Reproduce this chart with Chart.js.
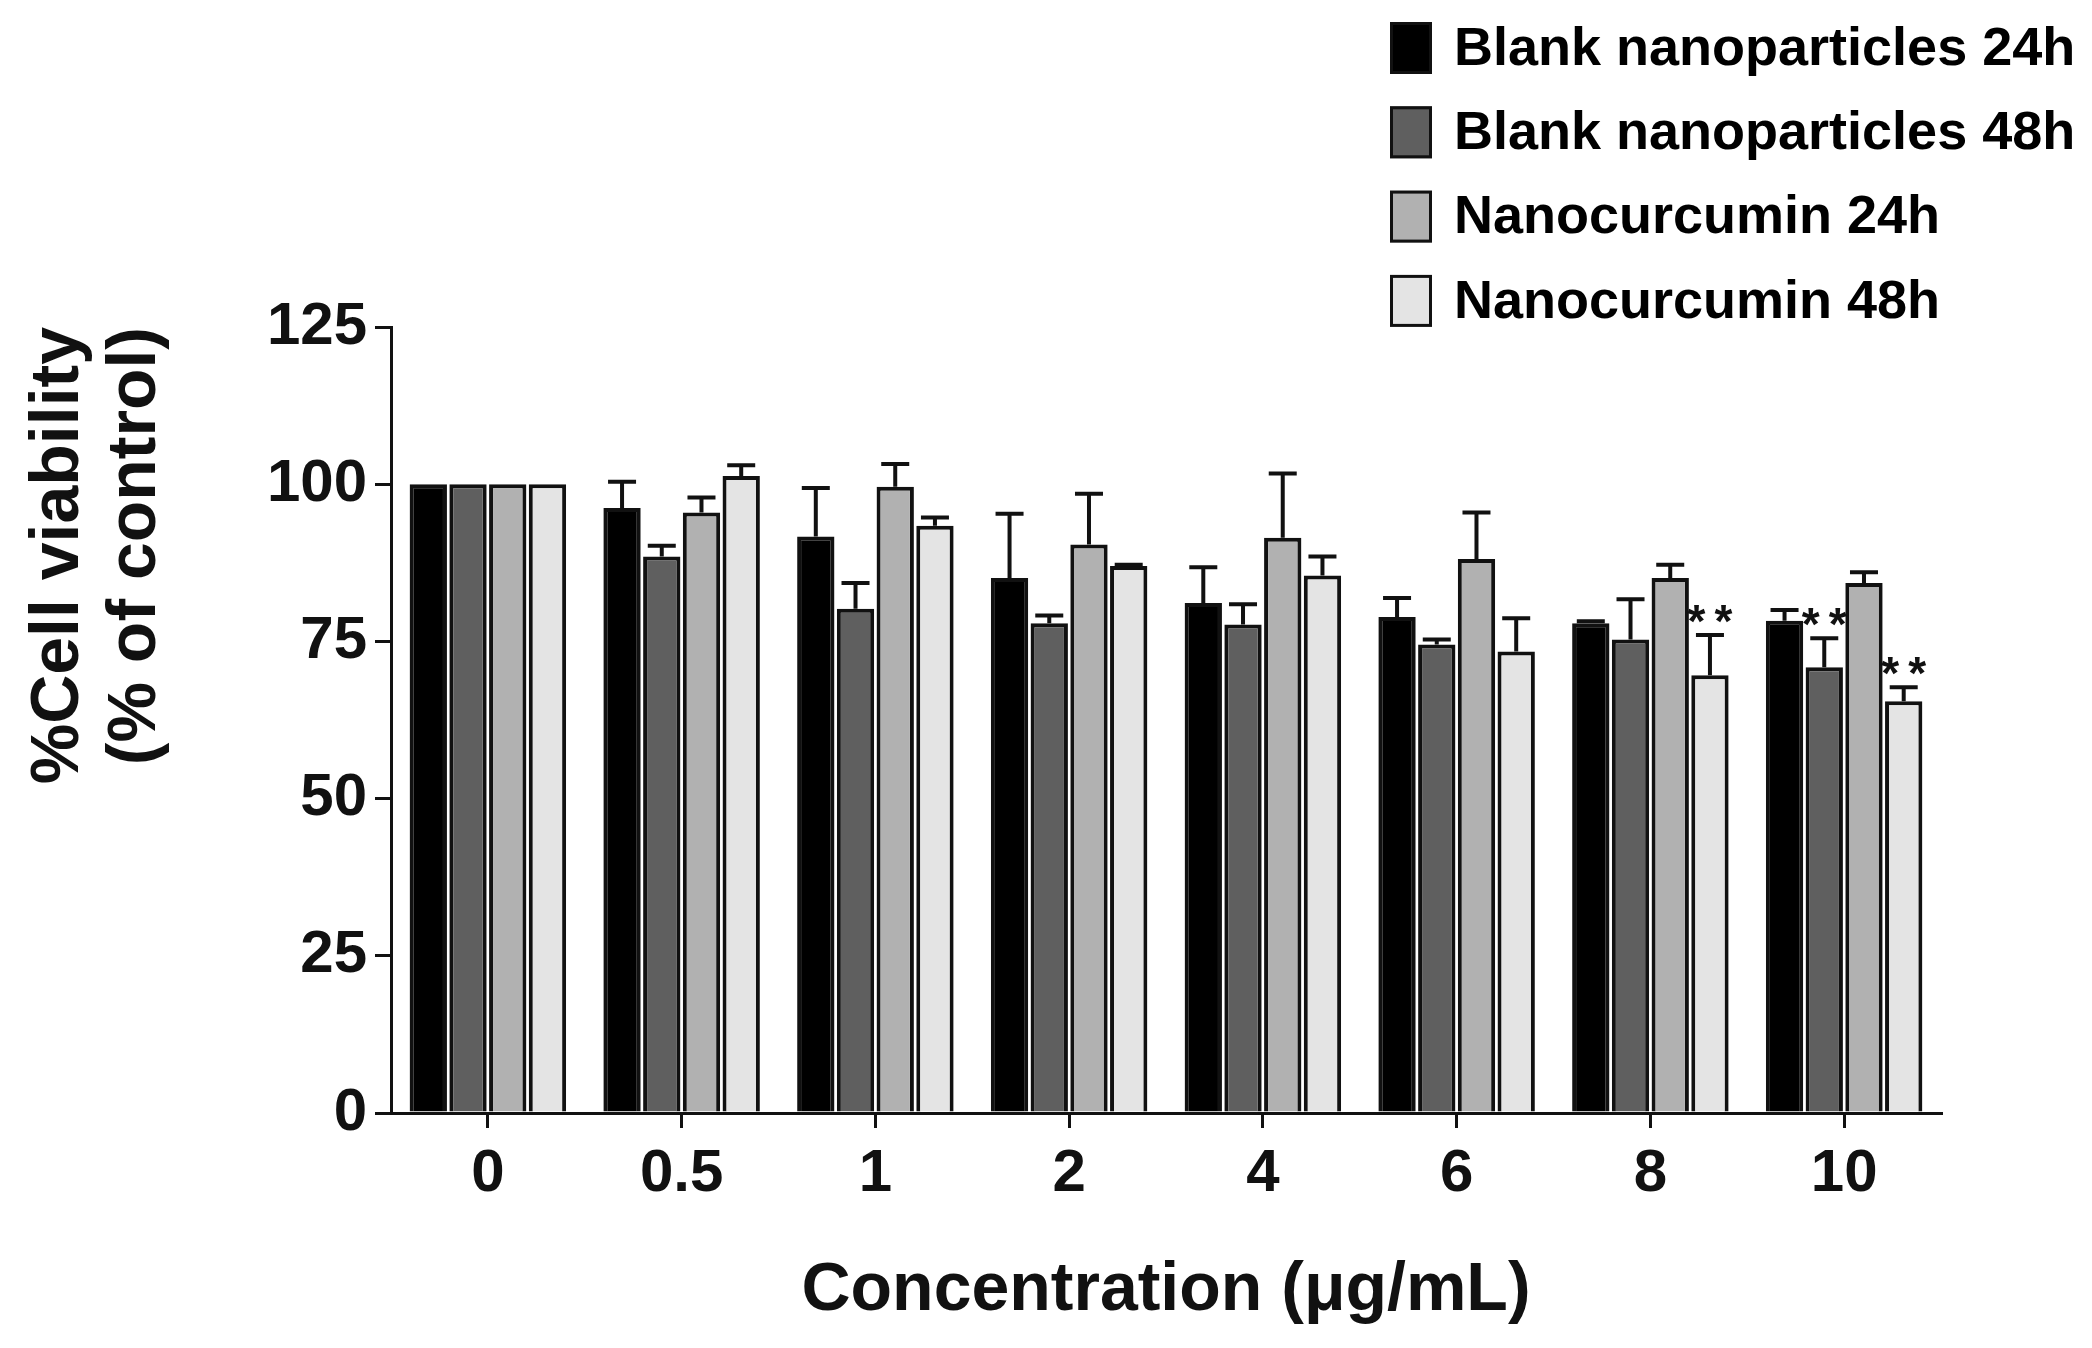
<!DOCTYPE html>
<html>
<head>
<meta charset="utf-8">
<title>Cell viability</title>
<script src="https://cdn.jsdelivr.net/npm/chart.js@4.4.1/dist/chart.umd.min.js"></script>
<style>
  html, body { margin: 0; padding: 0; background: #ffffff; }
  #wrap { width: 2092px; height: 1348px; }
</style>
</head>
<body>
<div id="wrap"><canvas id="viabilityChart" width="2092" height="1348"></canvas></div>
<script>
// Concentration groups (µg/mL)
const concentrations = ['0', '0.5', '1', '2', '4', '6', '8', '10'];

// Mean % viability
const blank24 = [100, 96.2, 91.7, 85.1, 81.1, 78.9, 77.9, 78.3];
const blank48 = [100, 88.5, 80.2, 77.9, 77.7, 74.5, 75.3, 70.9];
const nano24  = [100, 95.5, 99.6, 90.4, 91.5, 88.1, 85.1, 84.3];
const nano48  = [100, 101.3, 93.4, 87.0, 85.5, 73.4, 69.6, 65.5];

// Upper error bars (SD)
const blank24Err = [0, 4.2, 7.7, 10.2, 5.7, 3.0, 0.3, 1.7];
const blank48Err = [0, 1.7, 4.1, 1.2, 3.2, 0.8, 6.4, 4.6];
const nano24Err  = [0, 2.4, 3.6, 8.1, 10.2, 7.4, 2.1, 1.7];
const nano48Err  = [0, 1.7, 1.3, 0.2, 3.0, 5.3, 6.4, 2.2];

// significance marks
const blank24Sig = ['', '', '', '', '', '', '', ''];
const blank48Sig = ['', '', '', '', '', '', '', '**'];
const nano24Sig  = ['', '', '', '', '', '', '', ''];
const nano48Sig  = ['', '', '', '', '', '', '**', '**'];

const yTicks = [0, 25, 50, 75, 100, 125];

const seriesLabels = ['Blank nanoparticles 24h', 'Blank nanoparticles 48h', 'Nanocurcumin 24h', 'Nanocurcumin 48h'];
const seriesColors = ['#000000', '#5f5f5f', '#b1b1b1', '#e4e4e4'];

const FONT = '"Liberation Sans", Arial, Helvetica, sans-serif';

function makeSet(i, data, err, sig) {
    return {
        label: seriesLabels[i],
        data: data,
        errors: err,
        sig: sig,
        backgroundColor: seriesColors[i],
        borderColor: '#111111',
        borderWidth: 4,
        borderSkipped: 'start'
    };
}

// error bars + stars
const errorBarPlugin = {
    id: 'errorBars',
    afterDatasetsDraw(chart) {
        const ctx = chart.ctx;
        const y = chart.scales.y;
        chart.data.datasets.forEach((ds, di) => {
            const meta = chart.getDatasetMeta(di);
            meta.data.forEach((bar, i) => {
                const v = ds.data[i];
                const e = ds.errors[i];
                const top = y.getPixelForValue(v);
                const cap = y.getPixelForValue(v + e);
                ctx.save();
                ctx.strokeStyle = '#111111';
                ctx.lineWidth = 4;
                if (e > 0) {
                    ctx.beginPath();
                    ctx.moveTo(bar.x, top);
                    ctx.lineTo(bar.x, cap);
                    ctx.moveTo(bar.x - 14, cap);
                    ctx.lineTo(bar.x + 14, cap);
                    ctx.stroke();
                }
                if (ds.sig[i]) {
                    ctx.fillStyle = '#111111';
                    ctx.font = 'bold 46px ' + FONT;
                    ctx.textAlign = 'center';
                    ctx.textBaseline = 'alphabetic';
                    ctx.fillText(ds.sig[i].split('').join('\u2009'), bar.x, cap + 2);
                }
                ctx.restore();
            });
        });
    }
};

// legend in the top right corner
const legendPlugin = {
    id: 'boxLegend',
    afterDraw(chart) {
        const ctx = chart.ctx;
        const x0 = 1390, y0 = 48, rowH = 84.3;
        ctx.save();
        chart.data.datasets.forEach((ds, i) => {
            const cy = y0 + i * rowH;
            ctx.fillStyle = ds.backgroundColor;
            ctx.fillRect(x0, cy - 26, 42, 52);
            ctx.strokeStyle = '#111111';
            ctx.lineWidth = 3;
            ctx.strokeRect(x0 + 1.5, cy - 24.5, 39, 49);
            ctx.fillStyle = '#000000';
            ctx.font = 'bold 54px ' + FONT;
            ctx.textAlign = 'left';
            ctx.textBaseline = 'middle';
            ctx.fillText(ds.label, 1454, cy + 2);
        });
        ctx.restore();
    }
};

new Chart(document.getElementById('viabilityChart'), {
    type: 'bar',
    data: {
        labels: concentrations,
        datasets: [
            makeSet(0, blank24, blank24Err, blank24Sig),
            makeSet(1, blank48, blank48Err, blank48Sig),
            makeSet(2, nano24, nano24Err, nano24Sig),
            makeSet(3, nano48, nano48Err, nano48Sig)
        ]
    },
    options: {
        responsive: false,
        animation: false,
        devicePixelRatio: 1,
        categoryPercentage: 0.82,
        barPercentage: 0.94,
        layout: { padding: { top: 327, right: 151, left: 0, bottom: 0 } },
        plugins: {
            legend: { display: false },
            tooltip: { enabled: false }
        },
        scales: {
            y: {
                min: 0,
                max: 125,
                afterBuildTicks: (scale) => { scale.ticks = yTicks.map(v => ({ value: v })); },
                afterFit: (scale) => { scale.width = 391; },
                border: { color: '#111111', width: 3 },
                grid: { drawOnChartArea: false, drawTicks: true, tickLength: 16, color: '#111111', lineWidth: 3 },
                ticks: {
                    color: '#111111',
                    padding: 8,
                    font: { family: FONT, size: 60, weight: 'bold' }
                },
                title: {
                    display: true,
                    text: ['%Cell viability', '(% of control)'],
                    align: 'end',
                    color: '#111111',
                    padding: { top: 21, bottom: 0 },
                    font: { family: FONT, size: 68, weight: 'bold', lineHeight: 1.13 }
                }
            },
            x: {
                afterFit: (scale) => { scale.height = 1348 - 1113; },
                border: { color: '#111111', width: 3 },
                grid: { offset: false, drawOnChartArea: false, drawTicks: true, tickLength: 15, color: '#111111', lineWidth: 3 },
                ticks: {
                    color: '#111111',
                    padding: 10,
                    font: { family: FONT, size: 60, weight: 'bold' }
                },
                title: {
                    display: true,
                    text: 'Concentration (μg/mL)',
                    color: '#111111',
                    padding: { top: 0, bottom: 16 },
                    font: { family: FONT, size: 68, weight: 'bold', lineHeight: 1.2 }
                }
            }
        }
    },
    plugins: [errorBarPlugin, legendPlugin]
});
</script>
</body>
</html>
